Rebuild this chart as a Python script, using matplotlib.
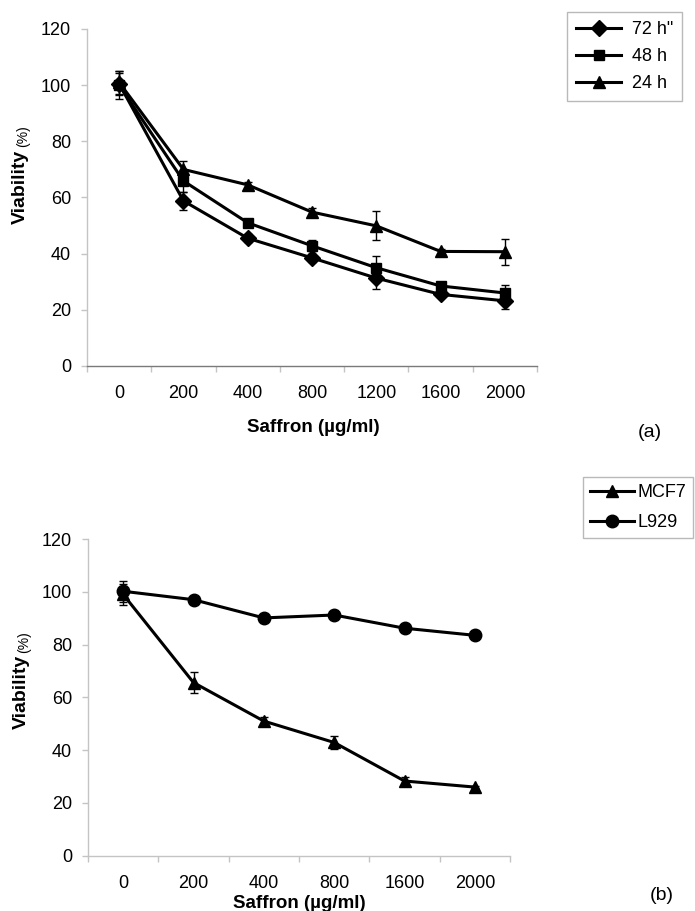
import numpy as np
import matplotlib
matplotlib.use('Agg')
import matplotlib.pyplot as plt
from matplotlib.ticker import FixedLocator

plt.rcParams['font.family'] = ['Liberation Sans', 'DejaVu Sans']

# panel (a): viability after 24/48/72 h
doses_a = ['0', '200', '400', '800', '1200', '1600', '2000']
v72  = [100.5, 58.8, 45.5, 38.5, 31.3, 25.5, 23.2]
e72  = [4.0, 3.3, 1.5, 1.5, 4.0, 1.0, 3.0]
v48  = [100.0, 65.9, 51.0, 42.8, 35.0, 28.5, 26.0]
e48  = [5.0, 4.0, 1.5, 2.0, 4.0, 1.5, 3.0]
v24  = [101.0, 70.0, 64.5, 54.8, 49.9, 40.8, 40.7]
e24  = [4.0, 3.0, 1.0, 1.5, 5.2, 1.0, 4.7]

# panel (b): MCF7 vs L929
doses_b = ['0', '200', '400', '800', '1600', '2000']
mcf7   = [99.0, 65.6, 51.0, 42.9, 28.3, 26.0]
e_mcf7 = [4.0, 4.0, 1.5, 2.3, 1.5, 0.5]
l929   = [100.2, 97.0, 90.1, 91.2, 86.2, 83.5]
e_l929 = [4.0, 1.5, 1.5, 1.5, 1.0, 1.0]

yticks = [0, 20, 40, 60, 80, 100, 120]

W, H = 695, 911
fig = plt.figure(figsize=(W/100, H/100), dpi=100)

tama = 13
lgray = '#c4c4c4'
dgray = '#7a7a7a'


def style_axis(ax, ncat, bottom_color):
    ax.set_xlim(-0.5, ncat - 0.5)
    ax.set_ylim(0, 120)
    ax.set_yticks(yticks)
    for s in ['top', 'right']:
        ax.spines[s].set_visible(False)
    ax.spines['left'].set_color(lgray)
    ax.spines['bottom'].set_color(bottom_color)
    ax.spines['left'].set_linewidth(1.0)
    ax.spines['bottom'].set_linewidth(1.0)
    ax.set_xticks(np.arange(ncat))
    ax.xaxis.set_minor_locator(FixedLocator(np.arange(ncat + 1) - 0.5))
    ax.tick_params(axis='x', which='major', length=0, pad=14, labelsize=tama)
    ax.tick_params(axis='x', which='minor', length=4.5, direction='out', color=lgray, width=1.0)
    ax.tick_params(axis='y', which='major', length=4.5, direction='out', color=lgray, width=1.0, pad=7, labelsize=tama)


def series(ax, x, y, e, marker, ms, label):
    ax.errorbar(x, y, yerr=e, fmt='none', ecolor='black', elinewidth=1.0,
                capsize=3.2, capthick=1.0, clip_on=False)
    ax.plot(x, y, color='black', marker=marker, markersize=ms, linewidth=2.2,
            label=label, clip_on=False)


# ---------- (a)
ax1 = fig.add_axes([87/W, 1 - 366/H, 450/W, 337/H])
x = np.arange(len(doses_a))
series(ax1, x, v24, e24, '^', 9, '24 h')
series(ax1, x, v48, e48, 's', 7, '48 h')
series(ax1, x, v72, e72, 'D', 8.5, '72 h"')
style_axis(ax1, len(doses_a), dgray)
ax1.set_xticklabels(doses_a)

h, l = ax1.get_legend_handles_labels()
leg1 = ax1.legend(h[::-1], l[::-1], loc='upper left', bbox_to_anchor=(567/W, 1 - 12/H),
                  bbox_transform=fig.transFigure, fontsize=tama, frameon=True, fancybox=False,
                  edgecolor='#a8a8a8', handlelength=2.5, handletextpad=0.6, labelspacing=0.55,
                  borderpad=0.5, borderaxespad=0)
leg1.get_frame().set_linewidth(1.0)

fig.text(313/W, 1 - 428/H, u'Saffron (\u00b5g/ml)', ha='center', va='center', fontsize=13.5, fontweight='bold')
fig.text(20/W, 1 - 224/H, 'Viability', rotation=90, ha='center', va='bottom', fontsize=14, fontweight='bold')
fig.text(23/W, 1 - 147/H, '(%)', rotation=90, ha='center', va='bottom', fontsize=10)
fig.text(650/W, 1 - 433/H, '(a)', ha='center', va='center', fontsize=14)

# ---------- (b)
ax2 = fig.add_axes([88/W, 1 - 855.7/H, 422/W, 316.7/H])
x = np.arange(len(doses_b))
series(ax2, x, mcf7, e_mcf7, '^', 9, 'MCF7')
series(ax2, x, l929, e_l929, 'o', 9, 'L929')
style_axis(ax2, len(doses_b), lgray)
ax2.set_xticklabels(doses_b)

leg2 = ax2.legend(loc='upper left', bbox_to_anchor=(583/W, 1 - 477/H),
                  bbox_transform=fig.transFigure, fontsize=tama, frameon=True, fancybox=False,
                  edgecolor='#a8a8a8', handlelength=2.4, handletextpad=0.2, labelspacing=0.7,
                  borderpad=0.4, borderaxespad=0)
leg2.get_frame().set_linewidth(1.0)

fig.text(299/W, 1 - 903/H, u'Saffron (\u00b5g/ml)', ha='center', va='center', fontsize=13.5, fontweight='bold')
fig.text(21/W, 1 - 729/H, 'Viability', rotation=90, ha='center', va='bottom', fontsize=14, fontweight='bold')
fig.text(24/W, 1 - 653/H, '(%)', rotation=90, ha='center', va='bottom', fontsize=10)
fig.text(662/W, 1 - 895/H, '(b)', ha='center', va='center', fontsize=14)

plt.savefig('out.png', dpi=100)
